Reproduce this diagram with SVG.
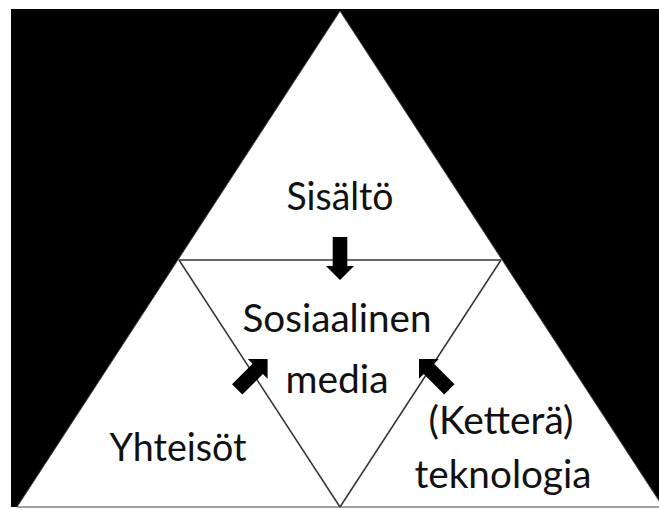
<svg xmlns="http://www.w3.org/2000/svg" width="659" height="510" viewBox="0 0 659 510">
<defs>
<style>
.lbl{font-family:Lato,"Open Sans","Liberation Sans",sans-serif;font-size:38px;fill:#111;text-anchor:middle}
.edge{stroke:#333;stroke-width:1.5;fill:none}
.arr{fill:#000}
</style>
<polygon id="arrow" points="-21.5,-7.3 7.5,-7.3 7.5,-14 21.5,0 7.5,14 7.5,7.3 -21.5,7.3"/>
</defs>
<rect x="0" y="0" width="659" height="510" fill="#fff"/>
<rect x="11" y="9" width="648" height="498" fill="#000"/>
<g id="outer">
<polygon points="340,11 17,507 663,507" fill="#fff" stroke="#444" stroke-width="1"/>
</g>
<g id="connectors">
<line class="edge" x1="179" y1="260" x2="501" y2="260" stroke-width="2.2"/>
<line class="edge" x1="179" y1="260" x2="340" y2="507"/>
<line class="edge" x1="501" y1="260" x2="340" y2="507"/>
<use href="#arrow" class="arr" transform="translate(340,258.5) rotate(90)"/>
<use href="#arrow" class="arr" transform="translate(252.4,374.2) rotate(-45)"/>
<use href="#arrow" class="arr" transform="translate(434.2,374.2) rotate(-135)"/>
</g>
<g id="sisalto"><text class="lbl" x="340" y="210" textLength="107" lengthAdjust="spacingAndGlyphs">Sisältö</text></g>
<g id="some">
<text class="lbl" x="337" y="332" textLength="189" lengthAdjust="spacingAndGlyphs">Sosiaalinen</text>
<text class="lbl" x="337" y="393" textLength="103" lengthAdjust="spacingAndGlyphs">media</text>
</g>
<g id="yhteisot"><text class="lbl" x="178" y="461" textLength="137" lengthAdjust="spacingAndGlyphs">Yhteisöt</text></g>
<g id="teknologia">
<text class="lbl" x="501" y="434" textLength="145" lengthAdjust="spacingAndGlyphs">(Ketterä)</text>
<text class="lbl" x="503" y="488" textLength="177" lengthAdjust="spacingAndGlyphs">teknologia</text>
</g>
</svg>
